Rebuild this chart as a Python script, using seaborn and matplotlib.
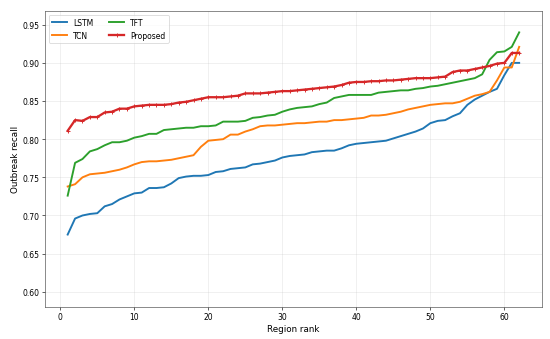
import numpy as np
import pandas as pd
import matplotlib
matplotlib.use("Agg")
import matplotlib.pyplot as plt
import seaborn as sns

rank = list(range(1, 63))

lstm = [0.675, 0.696, 0.700, 0.702, 0.703, 0.712, 0.715, 0.721, 0.725, 0.729,
        0.730, 0.736, 0.736, 0.737, 0.742, 0.749, 0.751, 0.752, 0.752, 0.753,
        0.757, 0.758, 0.761, 0.762, 0.763, 0.767, 0.768, 0.770, 0.772, 0.776,
        0.778, 0.779, 0.780, 0.783, 0.784, 0.785, 0.785, 0.788, 0.792, 0.794,
        0.795, 0.796, 0.797, 0.798, 0.801, 0.804, 0.807, 0.810, 0.814, 0.821,
        0.824, 0.825, 0.830, 0.834, 0.845, 0.852, 0.857, 0.862, 0.866, 0.884,
        0.900, 0.900]

tcn = [0.738, 0.741, 0.750, 0.754, 0.755, 0.756, 0.758, 0.760, 0.763, 0.767,
       0.770, 0.771, 0.771, 0.772, 0.773, 0.775, 0.777, 0.779, 0.790, 0.798,
       0.799, 0.800, 0.806, 0.806, 0.810, 0.813, 0.817, 0.818, 0.818, 0.819,
       0.820, 0.821, 0.821, 0.822, 0.823, 0.823, 0.825, 0.825, 0.826, 0.827,
       0.828, 0.831, 0.831, 0.832, 0.834, 0.836, 0.839, 0.841, 0.843, 0.845,
       0.846, 0.847, 0.847, 0.849, 0.853, 0.857, 0.859, 0.862, 0.877, 0.894,
       0.894, 0.921]

tft = [0.726, 0.769, 0.774, 0.784, 0.787, 0.792, 0.796, 0.796, 0.798, 0.802,
       0.804, 0.807, 0.807, 0.812, 0.813, 0.814, 0.815, 0.815, 0.817, 0.817,
       0.818, 0.823, 0.823, 0.823, 0.824, 0.828, 0.829, 0.831, 0.832, 0.836,
       0.839, 0.841, 0.842, 0.843, 0.846, 0.848, 0.854, 0.856, 0.858, 0.858,
       0.858, 0.858, 0.861, 0.862, 0.863, 0.864, 0.864, 0.866, 0.867, 0.869,
       0.870, 0.872, 0.874, 0.876, 0.878, 0.880, 0.885, 0.904, 0.914, 0.915,
       0.921, 0.940]

proposed = [0.811, 0.825, 0.824, 0.829, 0.829, 0.835, 0.836, 0.840, 0.840, 0.843,
            0.844, 0.845, 0.845, 0.845, 0.846, 0.848, 0.849, 0.851, 0.853, 0.855,
            0.855, 0.855, 0.856, 0.857, 0.860, 0.860, 0.860, 0.861, 0.862, 0.863,
            0.863, 0.864, 0.865, 0.866, 0.867, 0.868, 0.869, 0.871, 0.874, 0.875,
            0.875, 0.876, 0.876, 0.877, 0.877, 0.878, 0.879, 0.880, 0.880, 0.880,
            0.881, 0.882, 0.888, 0.890, 0.890, 0.892, 0.894, 0.896, 0.899, 0.900,
            0.913, 0.913]

series = {"LSTM": lstm, "TCN": tcn, "TFT": tft}
colors = {"LSTM": "#1f77b4", "TCN": "#ff7f0e", "TFT": "#2ca02c", "Proposed": "#d62728"}

fig, ax = plt.subplots(figsize=(10, 6.18), dpi=55)
fig.subplots_adjust(left=0.082, right=0.985, bottom=0.094, top=0.965)

for name, vals in series.items():
    sns.lineplot(x=rank, y=vals, ax=ax, color=colors[name], lw=2.5, label=name)
sns.lineplot(x=rank, y=proposed, ax=ax, color=colors["Proposed"], lw=3,
             marker="+", markersize=4, markeredgewidth=1.2,
             markeredgecolor=colors["Proposed"], label="Proposed")

ax.set_ylim(0.58, 0.968)
ax.set_xlabel("Region rank", fontsize=11.5)
ax.set_ylabel("Outbreak recall", fontsize=11.5)
ax.grid(True, alpha=0.3)
for s in ax.spines.values():
    s.set_color("#444444")
ax.legend(loc="upper left", ncol=2, fontsize=10)

fig.savefig("out.png", dpi=55)
